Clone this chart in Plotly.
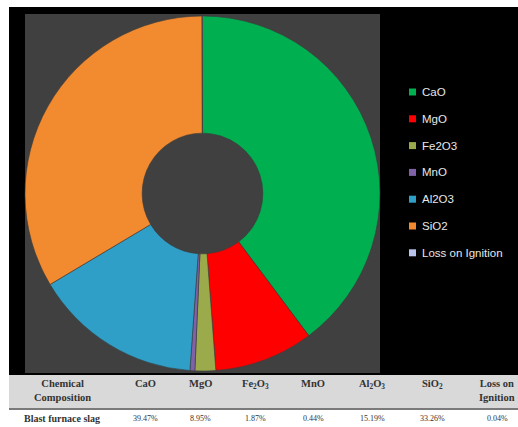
import plotly.graph_objects as go

W, H = 518, 427

labels = ["CaO", "MgO", "Fe2O3", "MnO", "Al2O3", "SiO2", "Loss on Ignition"]
values = [39.47, 8.95, 1.87, 0.44, 15.19, 33.26, 0.04]
colors = ["#00b050", "#ff0000", "#9bab4c", "#7f62a8", "#2f9fc8", "#f28a30", "#b8c4ec"]

header_labels = ["Chemical<br>Composition", "CaO", "MgO", "Fe<sub>2</sub>O<sub>3</sub>", "MnO",
                 "Al<sub>2</sub>O<sub>3</sub>", "SiO<sub>2</sub>", "Loss on<br>Ignition"]
row_label = "Blast furnace slag"
row_values = ["39.47%", "8.95%", "1.87%", "0.44%", "15.19%", "33.26%", "0.04%"]
col_centers = [62, 145, 200, 255, 313, 372, 432, 497]


def px(x):
    return x / W


def py(y):
    return 1 - y / H


fig = go.Figure()

fig.add_trace(go.Pie(
    labels=labels, values=values, marker=dict(colors=colors, line=dict(color="#3a3a3a", width=0.6)),
    hole=0.34, sort=False, direction="clockwise", rotation=0, textinfo="none",
    showlegend=False,
    domain=dict(x=[px(25), px(380)], y=[py(373), py(14)]),
))

shapes = [
    dict(type="rect", xref="paper", yref="paper", x0=px(9), x1=1, y0=py(375), y1=py(7),
         fillcolor="black", line=dict(width=0), layer="below"),
    dict(type="rect", xref="paper", yref="paper", x0=px(25), x1=px(380), y0=py(373), y1=py(14),
         fillcolor="#404040", line=dict(width=0), layer="below"),
    dict(type="rect", xref="paper", yref="paper", x0=px(9), x1=1, y0=py(408), y1=py(375),
         fillcolor="#d9d9d9", line=dict(width=0), layer="below"),
    dict(type="line", xref="paper", yref="paper", x0=px(9), x1=1, y0=py(409), y1=py(409),
         line=dict(color="#7a7a7a", width=2)),
]

annotations = []
leg_y0, leg_dy = 92, 26.8
for i, (lab, col) in enumerate(zip(labels, colors)):
    yc = leg_y0 + i * leg_dy
    shapes.append(dict(type="rect", xref="paper", yref="paper", x0=px(409), x1=px(416),
                       y0=py(yc + 3.5), y1=py(yc - 3.5), fillcolor=col, line=dict(width=0)))
    annotations.append(dict(xref="paper", yref="paper", x=px(420), y=py(yc), text=lab, showarrow=False,
                            xanchor="left", yanchor="middle",
                            font=dict(family="Liberation Sans", size=11.5, color="#e8e8e8")))

hfont = dict(family="Liberation Serif", size=10.5, color="#333333")
for cx, lab in zip(col_centers, header_labels):
    annotations.append(dict(xref="paper", yref="paper", x=px(cx), y=py(376), text="<b>" + lab + "</b>",
                            showarrow=False, xanchor="center", yanchor="top", align="center",
                            font=hfont))
row_texts = ["<b>" + row_label + "</b>"] + row_values
row_sizes = [10] + [8] * len(row_values)
for cx, txt, sz in zip(col_centers, row_texts, row_sizes):
    annotations.append(dict(xref="paper", yref="paper", x=px(cx), y=py(418), text=txt,
                            showarrow=False, xanchor="center", yanchor="middle",
                            font=dict(family="Liberation Serif", size=sz, color="#333333")))

fig.update_layout(
    width=W, height=H, margin=dict(l=0, r=0, t=0, b=0),
    paper_bgcolor="white", plot_bgcolor="white",
    shapes=shapes, annotations=annotations, showlegend=False,
)

fig.write_html("out.html", config={"displayModeBar": False},
               post_script="document.body.style.margin='0';document.body.style.overflow='hidden';")
